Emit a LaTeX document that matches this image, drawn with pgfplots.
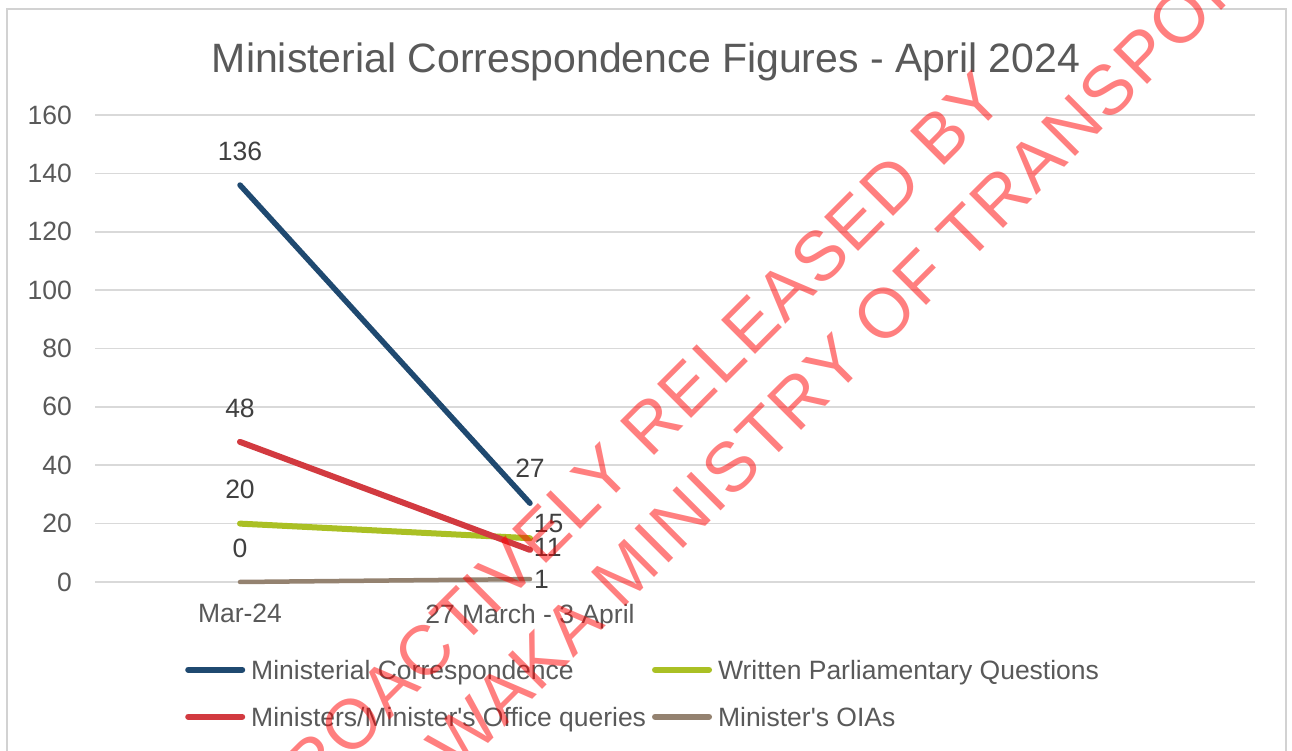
\documentclass[border=0pt]{standalone}
\usepackage{pgfplots}
\pgfplotsset{compat=1.18}
\usepackage{fontspec}
\setmainfont{Liberation Sans}
\newfontfamily\wmfont{Liberation Sans}[LetterSpace=3]
\definecolor{mcblue}{RGB}{31,73,112}
\definecolor{wpqgreen}{RGB}{170,192,36}
\definecolor{moqred}{RGB}{210,58,64}
\definecolor{oiabrown}{RGB}{148,130,112}
\definecolor{txtgray}{RGB}{89,89,89}
\definecolor{lblgray}{RGB}{64,64,64}
\definecolor{gridgray}{RGB}{217,217,217}
\definecolor{framegray}{RGB}{210,210,210}
\newcommand{\lblfont}{\fontsize{26.5}{30}\selectfont}

\begin{document}
\begin{tikzpicture}
\useasboundingbox (0,0) rectangle (1292pt,751pt);
\clip (0,0) rectangle (1292pt,751pt);
\fill[white] (0,0) rectangle (1292pt,751pt);
\draw[framegray, line width=1.5pt] (7pt,-10pt) rectangle (1286pt,742pt);
\begin{axis}[
  at={(95pt,169pt)}, anchor=south west,
  scale only axis, width=1160pt, height=467pt,
  xmin=-0.5, xmax=3.5, ymin=0, ymax=160,
  xtick={0,1}, xticklabels={Mar-24, 27 March - 3 April},
  ytick={0,20,...,160},
  axis line style={draw=none},
  major tick style={draw=none},
  ymajorgrids, major grid style={gridgray, line width=1.6pt},
  tick label style={font=\lblfont, text=txtgray, inner sep=0pt},
  yticklabel style={anchor=east, xshift=-23pt},
  xticklabel style={anchor=north, yshift=-22pt},
  /pgf/number format/assume math mode=true,
  title={Ministerial Correspondence Figures - April 2024},
  title style={font=\fontsize{41}{48}\selectfont, text=txtgray, at={(0.475,1.0792)}, anchor=base, inner sep=0pt},
  clip=false,
  legend columns=2,
  legend cell align=left,
  legend style={at={(0.0776,-0.167)}, anchor=north west, draw=none, fill=none, inner sep=0pt, font=\lblfont, row sep=28pt,
     nodes={inner sep=0pt, text height=19pt, text depth=0pt, text=txtgray},
     /tikz/every odd column/.style={column sep=6pt},
     /tikz/every even column/.style={column sep=6pt}},
  legend image code/.code={\draw[#1, line width=6pt, line cap=round] (3pt,0pt) -- (57pt,0pt);},
  nodes near coords,
  visualization depends on={value \thisrow{anc}\as\lblanc},
  visualization depends on={\thisrow{dx}\as\lbldx},
  visualization depends on={\thisrow{dy}\as\lbldy},
  every node near coord/.append style={font=\lblfont, text=lblgray, inner sep=0pt, anchor=\lblanc, xshift=\lbldx pt, yshift=\lbldy pt},
]
\addplot[mcblue, line width=5.5pt, line cap=round, no markers] table[x=x,y=y] {
x y anc dx dy
0 136 south 0 21.5
1 27 south 0 22.5
};
\addlegendentry{Ministerial Correspondence}
\addplot[wpqgreen, line width=6pt, line cap=round, no markers] table[x=x,y=y] {
x y anc dx dy
0 20 south 0 21.5
1 15 west 1 15
};
\addlegendentry{Written Parliamentary Questions}
\addplot[moqred, line width=6pt, line cap=round, no markers] table[x=x,y=y] {
x y anc dx dy
0 48 south 0 21.5
1 11 west 1 3
};
\addlegendentry{Ministers/Minister\textquotesingle s Office queries}
\addplot[oiabrown, line width=4.5pt, line cap=round, no markers] table[x=x,y=y] {
x y anc dx dy
0 0 south 0 21.5
1 1 west 2 0
};
\addlegendentry{Minister\textquotesingle s OIAs}
\end{axis}
\node[rotate=45, anchor=base east, inner sep=0pt, text=red, text opacity=0.5, font=\wmfont\fontsize{70}{84}\selectfont] at (1008pt,649pt) {PROACTIVELY RELEASED BY};
\node[rotate=45, anchor=base, inner sep=0pt, text=red, text opacity=0.5, font=\wmfont\fontsize{70}{84}\selectfont] at (717pt,236pt) {TE MANATŪ WAKA MINISTRY OF TRANSPORT};
\end{tikzpicture}
\end{document}
